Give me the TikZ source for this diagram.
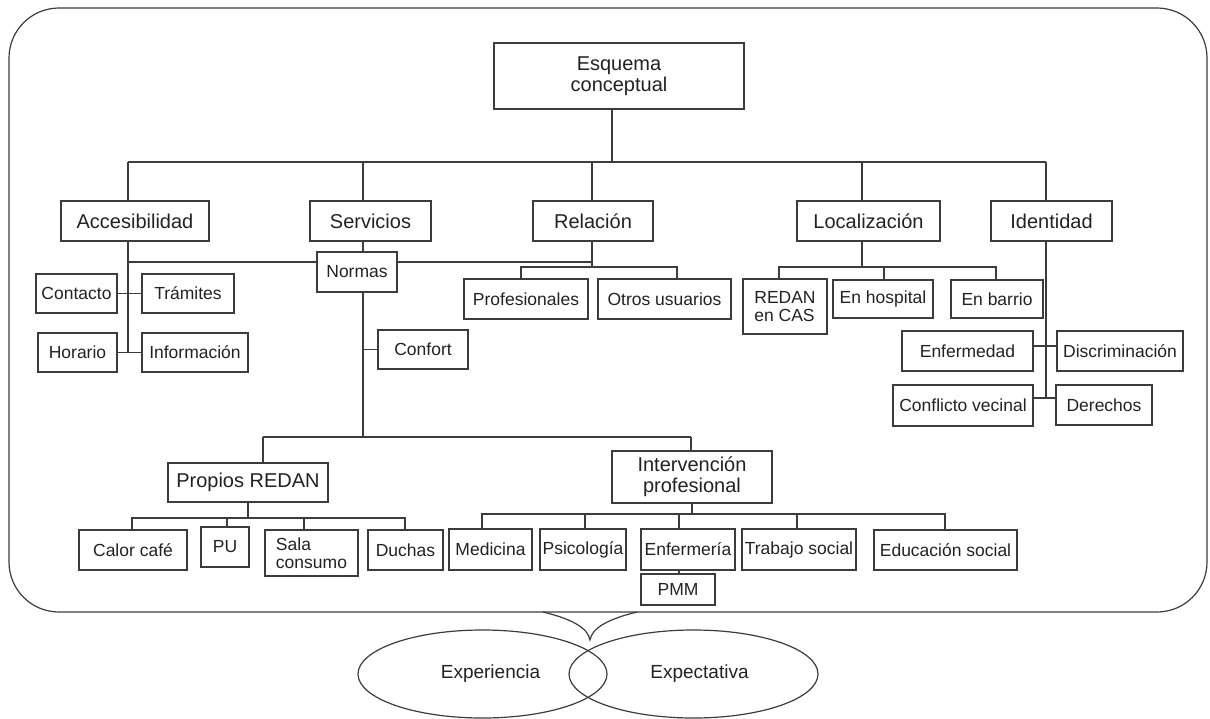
\documentclass[tikz,border=0pt]{standalone}
\usepackage{fontspec}
\setmainfont{Liberation Sans}
\usetikzlibrary{shapes.geometric}
\definecolor{ln}{HTML}{3C3C3C}
\definecolor{tx}{HTML}{222222}
\begin{document}
\begin{tikzpicture}[x=1pt,y=-1pt,
  wire/.style={draw=ln,line width=1.2pt},
  bx/.style={draw=ln,line width=1.2pt,rectangle,inner sep=0pt,text=tx,align=center},
  big/.style={bx,font=\fontsize{20}{21}\selectfont},
  sm/.style={bx,font=\fontsize{17.5}{17.5}\selectfont},
  ell/.style={draw=ln,line width=1.2pt,ellipse,inner sep=0pt,text=tx,font=\fontsize{19}{21}\selectfont}]
\useasboundingbox (0,0) rectangle (1210,718);
% outer frame
\draw[wire,rounded corners=50] (9,8) rectangle (1207,612);
\coordinate (br1) at (543,612);
\coordinate (brt) at (590,640);
\coordinate (br2) at (637,612);
\draw[wire] (br1) .. controls (572,619) and (588,628) .. (brt) .. controls (592,628) and (608,619) .. (br2);
% ellipses
\node[ell,minimum width=249,minimum height=88] (exp) at (482.5,674) {\hspace{16pt}Experiencia};
\node[ell,minimum width=249,minimum height=88] (expc) at (693.5,674) {\hspace{12pt}Expectativa};
% level 0/1
\node[big,minimum width=250,minimum height=66] (esq) at (619,76) {Esquema\\conceptual};
\node[big,minimum width=148,minimum height=40] (acc) at (135,221) {Accesibilidad};
\node[big,minimum width=121,minimum height=40] (ser) at (370.5,221) {Servicios};
\node[big,minimum width=120,minimum height=40] (rel) at (593,221) {Relación};
\node[big,minimum width=143,minimum height=40] (loc) at (868.5,221) {Localización};
\node[big,minimum width=121,minimum height=40] (ide) at (1051.5,221) {Identidad};
% Accesibilidad
\node[sm,minimum width=81,minimum height=39] (contacto) at (76.5,293.5) {Contacto};
\node[sm,minimum width=92,minimum height=39] (tramites) at (188,293.5) {Trámites};
\node[sm,minimum width=79,minimum height=39] (horario) at (77.5,352.5) {Horario};
\node[sm,minimum width=106,minimum height=39] (info) at (195,352.5) {Información};
% Servicios
\node[sm,minimum width=80,minimum height=40] (normas) at (357,272) {Normas};
\node[sm,minimum width=90,minimum height=39] (confort) at (423,349.5) {Confort};
\node[big,minimum width=160,minimum height=39] (propios) at (248,482.5) {Propios REDAN};
\node[big,minimum width=160,minimum height=52] (interv) at (692,477) {Intervención\\profesional};
\node[sm,minimum width=108,minimum height=40] (calor) at (133,550) {Calor café};
\node[sm,minimum width=48,minimum height=40] (pu) at (225,547) {PU};
\node[sm,minimum width=93,minimum height=46,align=left] (sala) at (311.5,553) {Sala\\consumo};
\node[sm,minimum width=75,minimum height=40] (duchas) at (405.5,550) {Duchas};
\node[sm,minimum width=83,minimum height=41] (med) at (490.5,549.5) {Medicina};
\node[sm,minimum width=86,minimum height=41] (psi) at (583,549.5) {Psicología};
\node[sm,minimum width=94,minimum height=41] (enfm) at (688,549.5) {Enfermería};
\node[sm,minimum width=114,minimum height=41] (trab) at (799,549.5) {Trabajo social};
\node[sm,minimum width=143,minimum height=40] (edu) at (945.5,550) {Educación social};
\node[sm,minimum width=74,minimum height=31] (pmm) at (678,589.5) {PMM};
% Relacion
\node[sm,minimum width=124,minimum height=40] (prof) at (526,299) {Profesionales};
\node[sm,minimum width=133,minimum height=40] (otros) at (664.5,299) {Otros usuarios};
% Localizacion
\node[sm,minimum width=84,minimum height=55,align=left] (redan) at (785,306.5) {REDAN\\en CAS};
\node[sm,minimum width=100,minimum height=38] (hosp) at (883,299) {En hospital};
\node[sm,minimum width=92,minimum height=38] (barrio) at (997,299) {En barrio};
% Identidad
\node[sm,minimum width=131,minimum height=40] (enf) at (967.5,351) {Enfermedad};
\node[sm,minimum width=126,minimum height=40] (disc) at (1120,351) {Discriminación};
\node[sm,minimum width=140,minimum height=41] (confl) at (963,405.5) {Conflicto vecinal};
\node[sm,minimum width=96,minimum height=40] (der) at (1104,405) {Derechos};
% coordinates for buses
\coordinate (top) at (612,162);
\coordinate (xa) at (128,162);
\coordinate (xs) at (363,162);
\coordinate (xr) at (592,162);
\coordinate (xl) at (862,162);
\coordinate (xi) at (1046,162);
\coordinate (ny) at (0,262);
\coordinate (rb) at (0,267);
\coordinate (rp) at (521,267);
\coordinate (ro) at (677,267);
\coordinate (lr) at (779,267);
\coordinate (lh) at (884,267);
\coordinate (lb) at (996,267);
\coordinate (ey) at (0,346);
\coordinate (iy) at (0,398);
\coordinate (sy) at (0,437);
\coordinate (pb) at (263,437);
\coordinate (ib) at (691,437);
\coordinate (px) at (248,0);
\coordinate (c1) at (132,518);
\coordinate (c2) at (227,518);
\coordinate (c3) at (304,518);
\coordinate (c4) at (405,518);
\coordinate (d1) at (482,514);
\coordinate (d2) at (585,514);
\coordinate (d3) at (679,514);
\coordinate (d4) at (797,514);
\coordinate (d5) at (945,514);
% top bus
\draw[wire] (esq.south -| top) -- (top);
\draw[wire] (xa) -- (xi);
\draw[wire] (xa) -- (xa |- acc.north);
\draw[wire] (xs) -- (xs |- ser.north);
\draw[wire] (xr) -- (xr |- rel.north);
\draw[wire] (xl) -- (xl |- loc.north);
\draw[wire] (xi) -- (xi |- ide.north);
% Accesibilidad
\draw[wire] (xa |- acc.south) -- (xa |- horario.east);
\draw[wire] (contacto.east) -- (tramites.west);
\draw[wire] (horario.east) -- (info.west);
\draw[wire] (xa |- ny) -- (normas.west |- ny);
\draw[wire] (normas.east |- ny) -- (xr |- ny);
% Servicios
\draw[wire] (xs |- ser.south) -- (xs |- normas.north);
\draw[wire] (xs |- normas.south) -- (xs |- sy);
\draw[wire] (xs |- confort.west) -- (confort.west);
\draw[wire] (pb) -- (ib);
\draw[wire] (pb) -- (pb |- propios.north);
\draw[wire] (ib) -- (ib |- interv.north);
\draw[wire] (px |- propios.south) -- (px |- c1);
\draw[wire] (c1 |- calor.north) -- (c1) -- (c4) -- (c4 |- duchas.north);
\draw[wire] (c2) -- (c2 |- pu.north);
\draw[wire] (c3) -- (c3 |- sala.north);
\draw[wire] (interv.south) -- (interv.south |- d1);
\draw[wire] (d1 |- med.north) -- (d1) -- (d5) -- (d5 |- edu.north);
\draw[wire] (d2) -- (d2 |- psi.north);
\draw[wire] (d3) -- (d3 |- enfm.north);
\draw[wire] (d4) -- (d4 |- trab.north);
\draw[wire] (d3 |- enfm.south) -- (d3 |- pmm.north);
% Relacion
\draw[wire] (xr |- rel.south) -- (xr |- rb);
\draw[wire] (rp |- prof.north) -- (rp) -- (ro) -- (ro |- otros.north);
% Localizacion
\draw[wire] (xl |- loc.south) -- (xl |- rb);
\draw[wire] (lr |- redan.north) -- (lr) -- (lb) -- (lb |- barrio.north);
\draw[wire] (lh) -- (lh |- hosp.north);
% Identidad
\draw[wire] (xi |- ide.south) -- (xi |- iy);
\draw[wire] (enf.east |- ey) -- (disc.west |- ey);
\draw[wire] (confl.east |- iy) -- (der.west |- iy);
\end{tikzpicture}
\end{document}
